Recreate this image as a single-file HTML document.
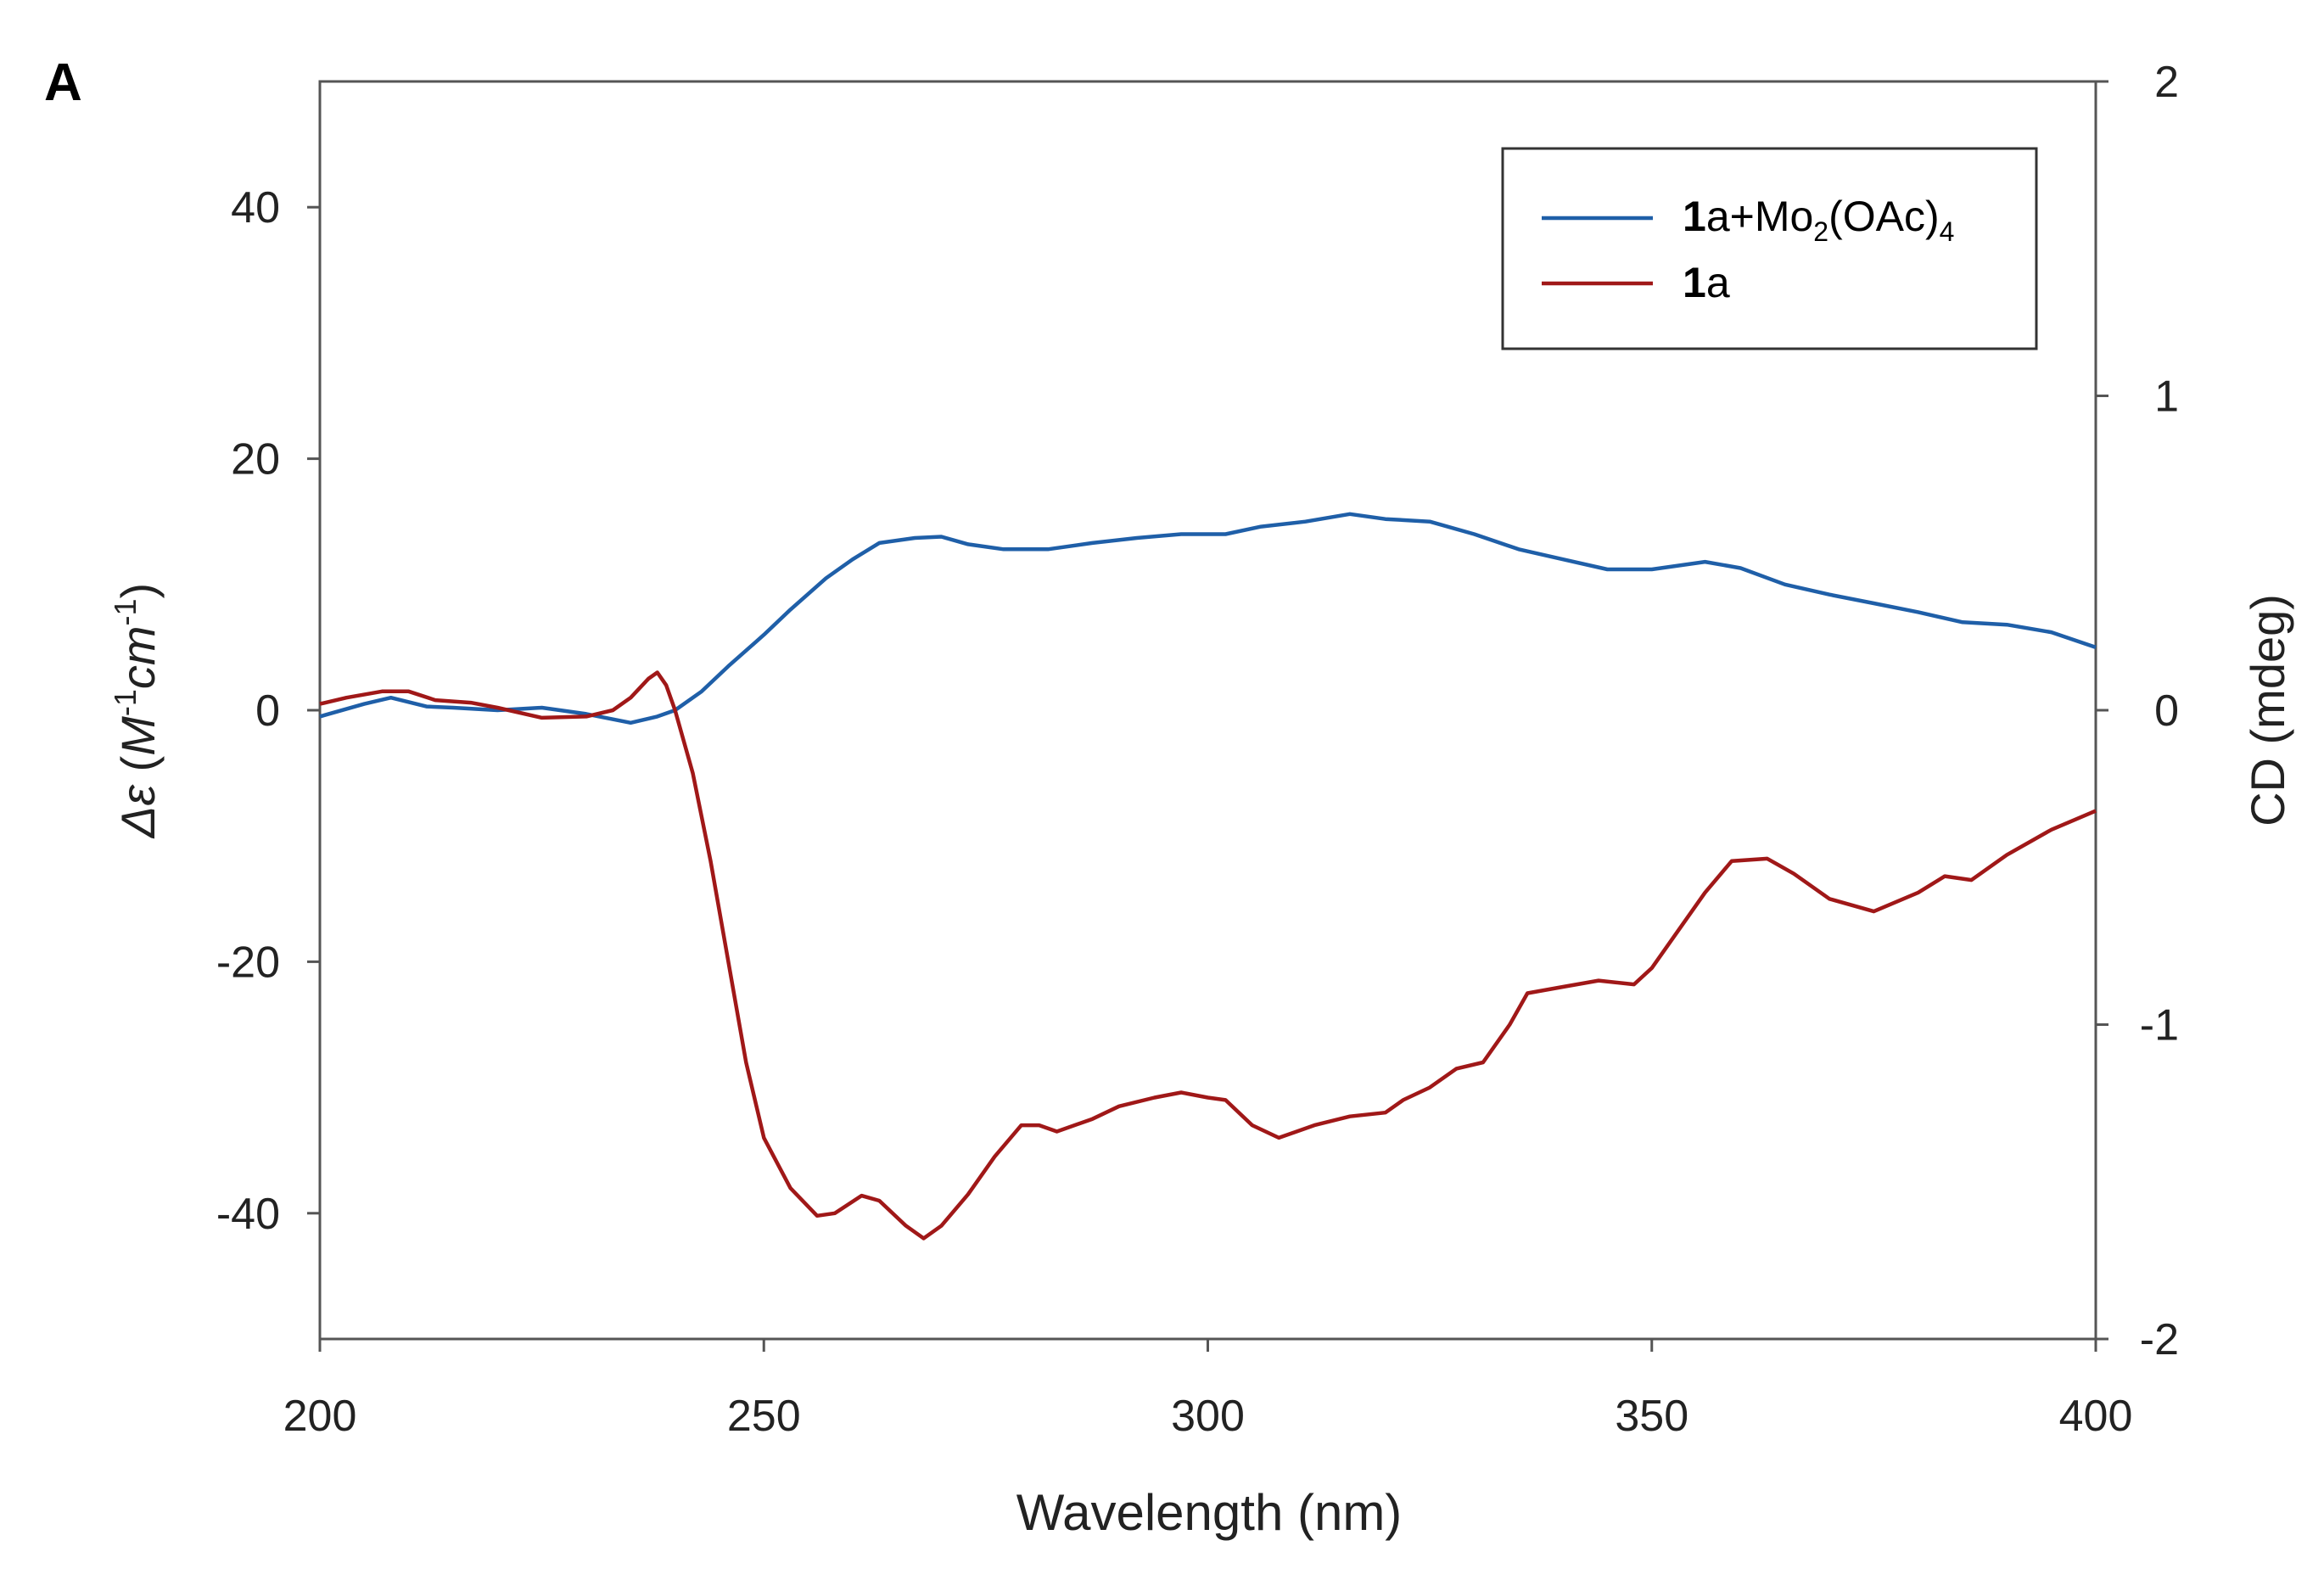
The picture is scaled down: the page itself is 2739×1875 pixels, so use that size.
<!DOCTYPE html>
<html><head><meta charset="utf-8"><style>
html,body{margin:0;padding:0;background:#fff;}
svg{display:block;font-family:"Liberation Sans",Arial,sans-serif;}
</style></head><body>
<svg id="chart" width="2739" height="1875" viewBox="0 0 2739 1875">
<text x="52" y="118" font-size="62" font-weight="bold">A</text>
<g id="axes"></g>
<g id="series"></g>
<g>
<rect x="1771" y="175" width="629" height="236" fill="#fff" stroke="#333" stroke-width="3"/>
<line x1="1817" y1="257" x2="1948" y2="257" stroke="#1f5fa8" stroke-width="4.5"/>
<text x="1983" y="272" font-size="50"><tspan font-weight="bold">1</tspan>a+Mo<tspan font-size="32" dy="12">2</tspan><tspan dy="-12">(OAc)</tspan><tspan font-size="32" dy="12">4</tspan></text>
<line x1="1817" y1="334" x2="1948" y2="334" stroke="#a01818" stroke-width="4.5"/>
<text x="1983" y="350" font-size="50"><tspan font-weight="bold">1</tspan>a</text>
</g>
<text x="1425" y="1803" font-size="60" text-anchor="middle" fill="#222">Wavelength (nm)</text>
<text transform="translate(182,837) rotate(-90)" font-size="56" text-anchor="middle" fill="#222"><tspan font-style="italic">Δε</tspan> (<tspan font-style="italic">M</tspan><tspan font-size="36" dy="-22">-1</tspan><tspan dy="22" font-style="italic">cm</tspan><tspan font-size="36" dy="-22">-1</tspan><tspan dy="22">)</tspan></text>
<text transform="translate(2692,837) rotate(-90)" font-size="56" text-anchor="middle" fill="#222">CD (mdeg)</text>
</svg>
<script>
const xTicks=[200,250,300,350,400];
const yTicks=[-40,-20,0,20,40];
const y2Ticks=[-2,-1,0,1,2];
const blueX=[200,205,208,212,215,220,225,230,235,238,240,243,246,250,253,257,260,263,267,270,273,277,282,287,292,297,302,306,311,316,320,325,330,335,340,345,350,356,360,365,370,375,380,385,390,395,400];
const blueY=[-0.5,0.5,1,0.3,0.2,0,0.2,-0.3,-1,-0.5,0,1.5,3.5,6,8,10.5,12,13.3,13.7,13.8,13.2,12.8,12.8,13.3,13.7,14,14,14.6,15,15.6,15.2,15,14,12.8,12,11.2,11.2,11.8,11.3,10,9.2,8.5,7.8,7,6.8,6.2,5];
const redX=[200,203,207,210,213,217,220,225,230,233,235,237,238,239,240,242,244,246,248,250,253,256,258,261,263,266,268,270,273,276,279,281,283,287,290,294,297,300,302,305,308,312,316,320,322,325,328,331,334,336,340,344,348,350,352,356,359,363,366,370,375,380,383,386,390,395,400];
const redY=[0.5,1,1.5,1.5,0.8,0.6,0.2,-0.6,-0.5,0,1,2.5,3,2,0,-5,-12,-20,-28,-34,-38,-40.2,-40,-38.6,-39,-41,-42,-41,-38.5,-35.5,-33,-33,-33.5,-32.5,-31.5,-30.8,-30.4,-30.8,-31,-33,-34,-33,-32.3,-32,-31,-30,-28.5,-28,-25,-22.5,-22,-21.5,-21.8,-20.5,-18.5,-14.5,-12,-11.8,-13,-15,-16,-14.5,-13.2,-13.5,-11.5,-9.5,-8];
const L=377,R=2470,T=96,B=1578;
const xs=v=>L+(v-200)/200*(R-L);
const ys=v=>B-(v+50)/100*(B-T);
const y2s=v=>B-(v+2)/4*(B-T);
const NS="http://www.w3.org/2000/svg";
function mk(tag,attrs,parent,txt){const e=document.createElementNS(NS,tag);for(const k in attrs)e.setAttribute(k,attrs[k]);if(txt!==undefined)e.textContent=txt;parent.appendChild(e);return e;}
const ax=document.getElementById('axes');
let e;
e=mk('rect',{x:L,y:T,width:R-L,height:B-T,fill:'none',stroke:'#555','stroke-width':3},ax);


xTicks.forEach(v=>{
 e=mk('line',{x1:xs(v),x2:xs(v),y1:B,y2:B+15,stroke:'#555','stroke-width':3},ax);
 
 
 e=mk('text',{x:xs(v),y:1686,'font-size':52,'text-anchor':'middle',fill:'#222'},ax,v);
 
 
});
yTicks.forEach(v=>{
 e=mk('line',{x1:L-15,x2:L,y1:ys(v),y2:ys(v),stroke:'#555','stroke-width':3},ax);
 
 
 e=mk('text',{x:330,y:ys(v)+18,'font-size':52,'text-anchor':'end',fill:'#222'},ax,v);
 
 
});
y2Ticks.forEach(v=>{
 e=mk('line',{x1:R,x2:R+15,y1:y2s(v),y2:y2s(v),stroke:'#555','stroke-width':3},ax);
 
 
 e=mk('text',{x:2568,y:y2s(v)+18,'font-size':52,'text-anchor':'end',fill:'#222'},ax,v);
 
 
});
const sg=document.getElementById('series');
function path(X,Y){return X.map((x,i)=>(i?'L':'M')+xs(x).toFixed(1)+','+ys(Y[i]).toFixed(1)).join('');}
e=mk('path',{d:path(blueX,blueY),fill:'none',stroke:'#1f5fa8','stroke-width':4.5,'stroke-linejoin':'round'},sg);


e=mk('path',{d:path(redX,redY),fill:'none',stroke:'#a01818','stroke-width':4.5,'stroke-linejoin':'round'},sg);


</script>
</body></html>
